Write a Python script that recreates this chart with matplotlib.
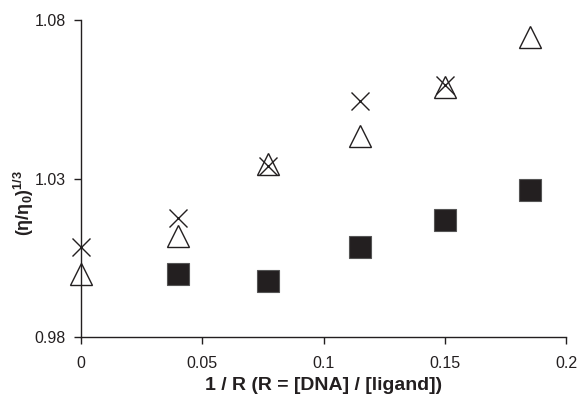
import matplotlib.pyplot as plt

plt.rcParams['font.family'] = ['Liberation Sans', 'DejaVu Sans']
plt.rcParams['mathtext.default'] = 'regular'

# data
x_cross = [0.0, 0.04, 0.077, 0.115, 0.15]
y_cross = [1.0084, 1.0175, 1.0339, 1.0545, 1.0595]

x_tri = [0.0, 0.04, 0.077, 0.115, 0.15, 0.185]
y_tri = [1.0000, 1.0119, 1.0346, 1.0434, 1.0589, 1.0746]

x_sq = [0.04, 0.077, 0.115, 0.15, 0.185]
y_sq = [1.0000, 0.9977, 1.0084, 1.0169, 1.0264]

xticks = [0, 0.05, 0.1, 0.15, 0.2]
xtick_labels = ['0', '0.05', '0.1', '0.15', '0.2']
yticks = [0.98, 1.03, 1.08]
ytick_labels = ['0.98', '1.03', '1.08']

fig = plt.figure(figsize=(5.8, 3.95), dpi=100)
ax = fig.add_axes([0.1397, 0.1468, 0.8362, 0.8026])

ax.plot(x_sq, y_sq, 's', ms=16, color='#231f20', mec='#555555', mew=0.8, clip_on=False)
ax.plot(x_tri, y_tri, '^', ms=16, mfc='none', mec='#231f20', mew=1.0, clip_on=False)
ax.plot(x_cross, y_cross, 'x', ms=13, color='#231f20', mew=1.0, clip_on=False)

ax.set_xlim(0, 0.2)
ax.set_ylim(0.98, 1.08)
ax.set_xticks(xticks)
ax.set_xticklabels(xtick_labels)
ax.set_yticks(yticks)
ax.set_yticklabels(ytick_labels)
ax.tick_params(direction='out', length=5, width=1, labelsize=11.5, color='#231f20', labelcolor='#231f20', pad=6)
ax.tick_params(axis='x', pad=9)

for s in ['top', 'right']:
	ax.spines[s].set_visible(False)
for s in ['left', 'bottom']:
	ax.spines[s].set_color('#231f20')
	ax.spines[s].set_linewidth(1)

ax.set_xlabel('1 / R (R = [DNA] / [ligand])', fontsize=14, fontweight='bold', color='#231f20')
ax.set_ylabel('(η/η$_0$)$^{1/3}$', fontsize=13, fontweight='bold', color='#231f20')
ax.xaxis.set_label_coords(0.5, -0.125)
ax.yaxis.set_label_coords(-0.093, 0.423)

fig.savefig('out.png', dpi=100)
